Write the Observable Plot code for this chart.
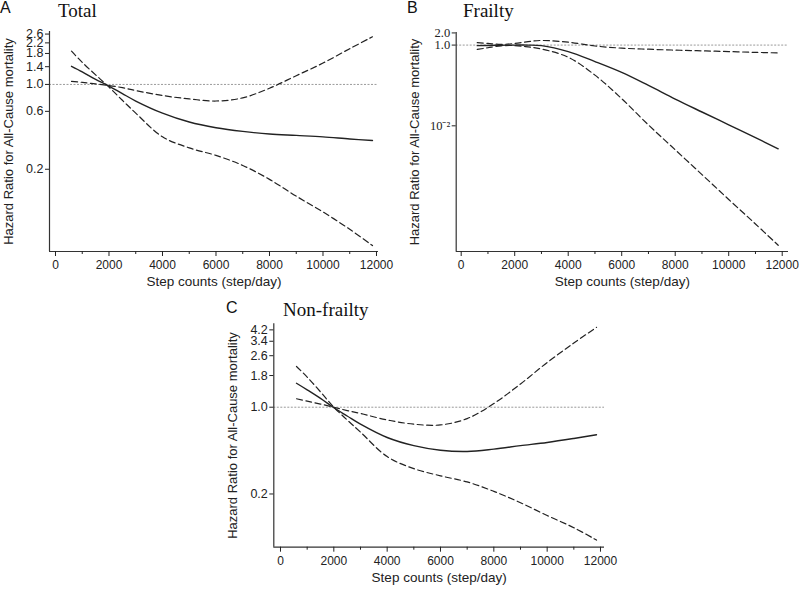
<!DOCTYPE html>
<html>
<head>
<meta charset="utf-8">
<script src="https://cdn.jsdelivr.net/npm/d3@7"></script>
<script src="https://cdn.jsdelivr.net/npm/@observablehq/plot@0.6"></script>
<style>
  html, body { margin: 0; padding: 0; background: #fff; }
  #fig { position: relative; width: 800px; height: 589px; overflow: hidden; background: #fff; }
  .panel { position: absolute; z-index: 1; }
  .letter { position: absolute; z-index: 5; font-family: "Liberation Sans", Arial, sans-serif; font-size: 16px; line-height: 1; color: #111; }
  .title { position: absolute; z-index: 5; font-family: "Liberation Serif", "Times New Roman", serif; font-size: 19px; line-height: 1; color: #111; }
</style>
</head>
<body>
<div id="fig">
  <div class="letter" style="left:0px; top:0px;">A</div>
  <div class="title" style="left:58px; top:1px;">Total</div>
  <div class="letter" style="left:407px; top:0px;">B</div>
  <div class="title" style="left:463px; top:1px;">Frailty</div>
  <div class="letter" style="left:226px; top:300px;">C</div>
  <div class="title" style="left:283px; top:300px;">Non-frailty</div>
</div>
<script>
// ---- data ----
const steps = [600, 1000, 1500, 2000, 2500, 3000, 4000, 5000, 6000, 7000, 8000, 9000, 10000, 11000, 11850];

// Panel A: Total
const totalHR    = [1.41, 1.27, 1.10, 0.97, 0.84, 0.73, 0.58, 0.49, 0.44, 0.41, 0.39, 0.38, 0.37, 0.355, 0.345];
const totalUpper = [1.06, 1.04, 1.01, 0.98, 0.94, 0.89, 0.81, 0.76, 0.73, 0.775, 0.93, 1.18, 1.50, 1.97, 2.47];
const totalLower = [1.88, 1.52, 1.20, 0.95, 0.74, 0.58, 0.37, 0.30, 0.26, 0.215, 0.165, 0.12, 0.089, 0.064, 0.047];

// Panel B: Frailty
const frailHR    = [0.97, 0.98, 0.99, 1.0, 1.0, 0.97, 0.69, 0.39, 0.21, 0.10, 0.046, 0.022, 0.0106, 0.0051, 0.0027];
const frailUpper = [1.15, 1.10, 1.04, 1.10, 1.22, 1.30, 1.18, 0.95, 0.84, 0.79, 0.75, 0.72, 0.69, 0.66, 0.64];
const frailLower = [0.78, 0.86, 0.96, 0.97, 0.90, 0.80, 0.50, 0.18, 0.047, 0.0105, 0.00255, 0.00062, 0.00015, 0.000037, 0.000011];

// Panel C: Non-frailty
const nonfrailHR    = [1.56, 1.38, 1.18, 0.99, 0.85, 0.73, 0.57, 0.49, 0.45, 0.44, 0.46, 0.49, 0.52, 0.56, 0.60];
const nonfrailUpper = [1.17, 1.12, 1.06, 1.0, 0.94, 0.89, 0.79, 0.73, 0.72, 0.81, 1.07, 1.54, 2.29, 3.29, 4.40];
const nonfrailLower = [2.13, 1.75, 1.33, 1.0, 0.79, 0.63, 0.40, 0.32, 0.28, 0.25, 0.21, 0.17, 0.134, 0.107, 0.085];

// tick labels
const xMajorTicks = [0, 2000, 4000, 6000, 8000, 10000, 12000];
const xMinorTicks = [1000, 3000, 5000, 7000, 9000, 11000];
const yTicksA = [0.2, 0.6, 1.0, 1.4, 1.8, 2.2, 2.6];
const yTicksB = [0.01, 1.0, 2.0];
const yTicksC = [0.2, 1.0, 1.8, 2.6, 3.4, 4.2];

const xLabel = "Step counts (step/day)";
const yLabel = "Hazard Ratio for All-Cause mortality";

function rows(hr, lo, up) {
  return steps.map((s, i) => ({step: s, hr: hr[i], lower: lo[i], upper: up[i]}));
}

function panel({data, width, height, margins, xDomain, yDomain, yTicks, yFormat, yFont, yLabelOffset, xLabelOffset}) {
  const ink = "#222";
  const common = {x: "step", curve: "catmull-rom", stroke: ink};
  return Plot.plot({
    width, height,
    marginLeft: margins[0], marginTop: margins[1], marginRight: margins[2], marginBottom: margins[3],
    style: {fontFamily: "'Liberation Sans', Arial, sans-serif", fontSize: "12px", color: "#222", background: "white", overflow: "visible"},
    x: {domain: xDomain},
    y: {type: "log", domain: yDomain},
    marks: [
      Plot.ruleY([1], {stroke: "#9a9a9a", strokeDasharray: "2,1.5", strokeWidth: 1}),
      Plot.line(data, {...common, y: "upper", strokeWidth: 1.2, strokeDasharray: "6,3.5"}),
      Plot.line(data, {...common, y: "lower", strokeWidth: 1.2, strokeDasharray: "6,3.5"}),
      Plot.line(data, {...common, y: "hr", strokeWidth: 1.4}),
      Plot.ruleX([xDomain[0]], {stroke: "#333", strokeWidth: 1.2}),
      Plot.ruleY([yDomain[0]], {stroke: "#333", strokeWidth: 1.2}),
      Plot.axisX({ticks: xMajorTicks, tickSize: 5, tickFormat: d => String(d), label: null, fontSize: 12, tickPadding: 4}),
      Plot.axisX({ticks: [], label: xLabel, labelAnchor: "center", labelArrow: "none", labelOffset: xLabelOffset, fontSize: 13.5}),
      Plot.axisX({ticks: xMinorTicks, tickSize: 3, tickFormat: () => "", label: null}),
      Plot.axisY({ticks: yTicks, tickSize: 4, tickFormat: yFormat, label: null, tickPadding: 2, fontFamily: yFont, fontSize: 12.5}),
      Plot.axisY({ticks: [], label: yLabel, labelAnchor: "center", labelArrow: "none", labelOffset: yLabelOffset, fontSize: 13})
    ]
  });
}

const fig = document.getElementById("fig");
function place(svg, left, top) {
  const d = document.createElement("div");
  d.className = "panel";
  d.style.left = left + "px";
  d.style.top = top + "px";
  d.appendChild(svg);
  fig.appendChild(d);
}

place(panel({
  data: rows(totalHR, totalLower, totalUpper),
  width: 400, height: 295, margins: [49, 31, 22, 44],
  xDomain: [-224, 12075], yDomain: [0.042, 2.73],
  yTicks: yTicksA, yFormat: d => d.toFixed(1), yFont: "'Liberation Sans', Arial, sans-serif",
  yLabelOffset: 46, xLabelOffset: 34
}), 0, 0);

place(panel({
  data: rows(frailHR, frailLower, frailUpper),
  width: 400, height: 295, margins: [55.7, 32, 12, 44],
  xDomain: [-187, 12235], yDomain: [7.7e-6, 2.05],
  yTicks: yTicksB, yFormat: d => d < 0.5 ? "10\u207B\u00B2" : d.toFixed(1), yFont: "'Liberation Serif', 'Times New Roman', serif",
  yLabelOffset: 46, xLabelOffset: 34
}), 400, 0);

place(panel({
  data: rows(nonfrailHR, nonfrailLower, nonfrailUpper),
  width: 410, height: 299, margins: [63.3, 33.3, 16, 42.3],
  xDomain: [-251, 12150], yDomain: [0.0745, 4.7],
  yTicks: yTicksC, yFormat: d => d.toFixed(1), yFont: "'Liberation Sans', Arial, sans-serif",
  yLabelOffset: 46, xLabelOffset: 35
}), 210, 290);
</script>
</body>
</html>
